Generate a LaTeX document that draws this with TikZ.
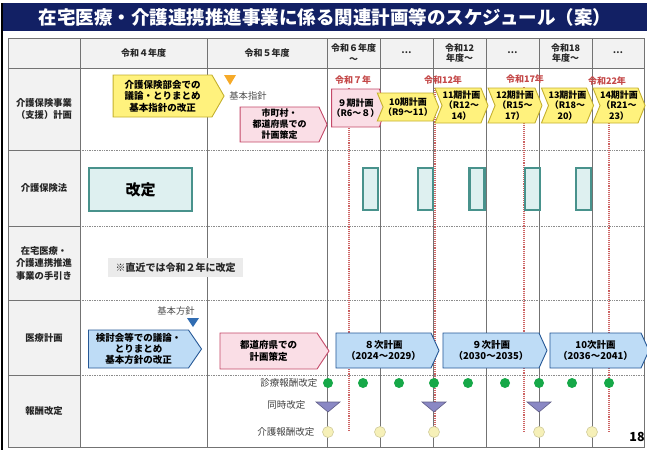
\documentclass[tikz,border=0pt]{standalone}
\usepackage{fontspec}
\setmainfont{Noto Sans CJK JP}
\usepackage{xcolor}
\usepackage{tikz}
\usetikzlibrary{positioning,calc,shapes.symbols}
\definecolor{navy}{RGB}{18,32,100}
\definecolor{cellgray}{RGB}{242,242,242}
\definecolor{yelfill}{RGB}{255,242,125}
\definecolor{yeldraw}{RGB}{196,176,46}
\definecolor{pinkfill}{RGB}{250,222,230}
\definecolor{pinkdraw}{RGB}{196,72,104}
\definecolor{blufill}{RGB}{190,220,246}
\definecolor{bludraw}{RGB}{38,88,150}
\definecolor{tealfill}{RGB}{222,240,240}
\definecolor{tealdraw}{RGB}{72,146,140}
\definecolor{yrred}{RGB}{196,72,72}
\definecolor{dotgreen}{RGB}{22,168,72}
\definecolor{dotyel}{RGB}{246,240,184}
\definecolor{purtri}{RGB}{138,136,196}
\definecolor{orgtri}{RGB}{246,170,40}
\definecolor{blutri}{RGB}{48,108,178}
\tikzset{
  ttl/.style    ={text=white, font=\bfseries\fontsize{18.5}{20}\selectfont},
  hdr/.style    ={align=center, text=black!85, font=\bfseries\fontsize{9}{10.5}\selectfont},
  rowlbl/.style ={align=center, text=black!85, font=\bfseries\fontsize{9.3}{12.5}\selectfont},
  gridline/.style={draw=black!55, line width=0.6pt},
  rowline/.style={draw=black!45, densely dotted, line width=0.7pt},
  pent/.style   ={signal, signal to=east, signal pointer angle=130, draw, line width=0.9pt, align=center, inner sep=0pt, font=\bfseries\fontsize{9}{10.5}\selectfont},
  yelarr/.style ={pent, fill=yelfill, draw=yeldraw},
  pinkarr/.style={pent, fill=pinkfill, draw=pinkdraw},
  bluarr/.style ={pent, fill=blufill, draw=bludraw},
  notch/.style  ={signal from=west},
  sz/.style 2 args={minimum width=#1, minimum height=#2},
  lawbox/.style ={draw=tealdraw, fill=tealfill, line width=2.2pt, inner sep=0pt},
  yr/.style     ={text=yrred, font=\bfseries\fontsize{9}{10}\selectfont},
  cut/.style    ={draw=yrred!85, densely dotted, line width=1.1pt},
  gdot/.style   ={circle, fill=dotgreen, minimum size=10pt, inner sep=0pt},
  ydot/.style   ={circle, fill=dotyel, draw=dotyel!85!black, line width=0.6pt, minimum size=11pt, inner sep=0pt},
  rlbl/.style   ={anchor=east, text=black!75, font=\fontsize{9.5}{10}\selectfont},
  note/.style   ={text=black!70, font=\fontsize{9.3}{10}\selectfont},
}
\begin{document}
\begin{tikzpicture}[x=1pt, y=-1pt]
  \useasboundingbox (0,0) rectangle (647,450);

  % title band
  \fill[navy] (3,3) rectangle (647,31);
  \draw[black, line width=1.6pt] (2,3) -- (2,450);
  \node[ttl] (ttl) at (325,17) {在宅医療・介護連携推進事業に係る関連計画等のスケジュール（案）};

  % table grid
  \fill[cellgray] (8,38) rectangle (644,68);
  \fill[cellgray] (8,68) rectangle (80,447);
  \foreach \yy in {150,226,300,375} {
    \draw[rowline] (80,\yy) -- (644,\yy);
    \draw[gridline] (8,\yy) -- (80,\yy);
  }
  \draw[gridline] (8,68) -- (644,68);
  \foreach \xx in {80,207,327,380,433,486,539,592}
    \draw[gridline] (\xx,38) -- (\xx,447);
  \draw[gridline] (8,38) rectangle (644,447);

  % header
  \node[hdr] (h4)  at (143.5,53) {令和４年度};
  \node[hdr] (h5)  at (267,53)   {令和５年度};
  \node[hdr] (h6)  at (353.5,53) {令和６年度\\～};
  \node[hdr] (d1)  at (406.5,53) {…};
  \node[hdr] (h12) at (459.5,53) {令和12\\年度～};
  \node[hdr] (d2)  at (512.5,53) {…};
  \node[hdr] (h18) at (565.5,53) {令和18\\年度～};
  \node[hdr] (d3)  at (618,53)   {…};

  % row labels
  \node[rowlbl] (rl1) at (44,109)   {介護保険事業\\（支援）計画};
  \node[rowlbl] (rl2) at (44,188)   {介護保険法};
  \node[rowlbl] (rl3) at (44,263)   {在宅医療・\\介護連携推進\\事業の手引き};
  \node[rowlbl] (rl4) at (44,337.5) {医療計画};
  \node[rowlbl] (rl5) at (44,411)   {報酬改定};

  % years + cut lines
  \node[yr] (r7)  at (353,80) {令和７年};
  \node[yr] (r12) at (443,80) {令和12年};
  \node[yr] (r17) at (525,79) {令和17年};
  \node[yr] (r22) at (607,81) {令和22年};
  \coordinate (e7)  at (349,432);
  \coordinate (e12) at (435,436);
  \coordinate (e17) at (524,432);
  \coordinate (e22) at (609,432);
  \draw[cut] (r7.south -| e7) -- (e7);
  \draw[cut] (r12.south -| e12) -- (e12);
  \draw[cut] (r17.south -| e17) -- (e17);
  \draw[cut] (r22.south -| e22) -- (e22);

  % 介護保険事業（支援）計画
  \node[yelarr, sz={111pt}{42pt}, signal pointer angle=120, font=\bfseries\fontsize{9.5}{11.5}\selectfont] (kbk) at (162.5,96) {介護保険部会での\\議論・とりまとめ\\基本指針の改正};
  \coordinate (kst) at (230,80);
  \fill[orgtri] ($(kst)+(-6,-5)$) -- ($(kst)+(6,-5)$) -- ($(kst)+(0,5)$) -- cycle;
  \node[note] (kst-l) at (248,96) {基本指針};
  \node[pinkarr, sz={87pt}{35pt}, font=\bfseries\fontsize{9}{11}\selectfont] (shk) at (279.5,124.5) {市町村・\\都道府県での\\計画策定};
  \node[pinkarr, sz={51pt}{38pt}, signal pointer angle=145] (k9) at (355.5,108) {９期計画\\（R6～８）};
  \node[yelarr, notch, sz={54pt}{28pt}, signal pointer angle=135] (k10) at (408,107) {10期計画\\（R9～11）};
  \node[yelarr, notch, sz={53pt}{35pt}, signal pointer angle=136] (k11) at (461.5,105.5) {11期計画\\（R12～\\14）};
  \node[yelarr, notch, sz={54pt}{35pt}, signal pointer angle=136] (k12) at (515,105.5) {12期計画\\（R15～\\17）};
  \node[yelarr, notch, sz={51pt}{35pt}, signal pointer angle=136] (k13) at (567.5,105.5) {13期計画\\（R18～\\20）};
  \node[yelarr, notch, sz={52pt}{35pt}, signal pointer angle=136] (k14) at (619,105.5) {14期計画\\（R21～\\23）};

  % 介護保険法
  \node[lawbox, sz={103pt}{43pt}, font=\bfseries\fontsize{15}{16}\selectfont] (kaitei) at (140.5,189.5) {改定};
  \foreach \i/\xx in {1/370.5,2/425.5,3/477,4/532.5,5/583.5}
    \node[lawbox, sz={15pt}{42pt}] (lw\i) at (\xx,189) {};

  % 手引き
  \node[fill=black!8, sz={135pt}{19pt}, inner sep=0pt, text=black!85, font=\bfseries\fontsize{10}{11}\selectfont] (tebiki) at (175.5,267.5) {※直近では令和２年に改定};

  % 医療計画
  \node[note] (ihs-l) at (176,311) {基本方針};
  \coordinate (ihs) at (193,322.5);
  \fill[blutri] ($(ihs)+(-6,-4.5)$) -- ($(ihs)+(6,-4.5)$) -- ($(ihs)+(0,4.5)$) -- cycle;
  \node[bluarr, sz={113pt}{38pt}, signal pointer angle=111, font=\bfseries\fontsize{9.5}{11}\selectfont] (kento) at (138.5,349) {検討会等での議論・\\とりまとめ\\基本方針の改正};
  \node[pinkarr, sz={109pt}{36pt}, signal pointer angle=113, font=\bfseries\fontsize{9.5}{11.5}\selectfont] (tdf) at (268.5,351) {都道府県での\\計画策定};
  \node[bluarr, sz={103pt}{35pt}, signal pointer angle=131, font=\bfseries\fontsize{9.5}{11.5}\selectfont] (i8)  at (383.5,350.5) {８次計画\\（2024～2029）};
  \node[bluarr, sz={104pt}{35pt}, signal pointer angle=131, font=\bfseries\fontsize{9.5}{11.5}\selectfont] (i9)  at (491,350.5)   {９次計画\\（2030～2035）};
  \node[bluarr, sz={99pt}{35pt}, signal pointer angle=131, font=\bfseries\fontsize{9.5}{11.5}\selectfont]  (i10) at (595.5,350.5) {10次計画\\（2036～2041）};

  % 報酬改定
  \node[rlbl] (lsr) at (321,383) {診療報酬改定};
  \node[rlbl] (ldj) at (309,405) {同時改定};
  \node[rlbl] (lkr) at (318,432) {介護報酬改定};
  \foreach \i/\xx in {1/328,2/363,3/399,4/434,5/468,6/505,7/539,8/572,9/609}
    \node[gdot] (sr\i) at (\xx,383) {};
  \foreach \n/\xx in {a/328,b/434,c/539} {
    \coordinate (dj\n) at (\xx,407);
    \filldraw[fill=purtri, draw=purtri!70!black, line width=0.6pt] ($(dj\n)+(-12,-5)$) -- ($(dj\n)+(12,-5)$) -- ($(dj\n)+(0,5)$) -- cycle;
  }
  \foreach \i/\xx in {1/328,2/380,3/434,4/539,5/592}
    \node[ydot] (kr\i) at (\xx,432) {};

  \node[font=\bfseries\fontsize{12.5}{13}\selectfont] (pg) at (637,437) {18};
\end{tikzpicture}
\end{document}
